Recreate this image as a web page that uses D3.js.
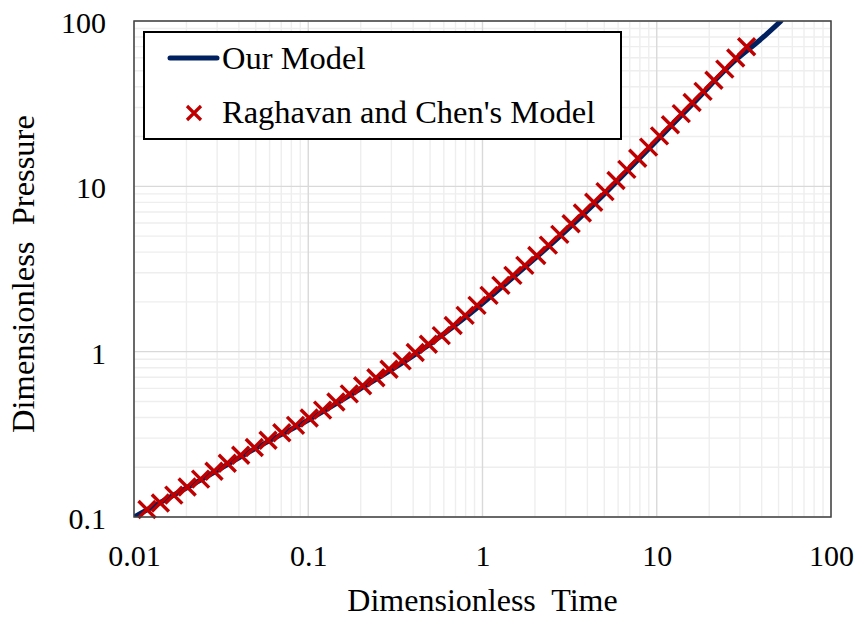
<!DOCTYPE html>
<html>
<head>
<meta charset="utf-8">
<script src="https://cdn.jsdelivr.net/npm/d3@7"></script>
<style>
  html, body { margin: 0; padding: 0; background: #ffffff; }
  svg { display: block; }
</style>
</head>
<body>
<svg id="chart" width="861" height="620"></svg>
<script>
// ---- Data ----
const modelTime = [0.01, 0.02411, 0.04903, 0.1013, 0.2051, 0.4110, 0.7945, 1.494, 2.777, 5.047, 8.979, 15.95, 28.39, 39.13, 51.6];
const modelPressure = [0.1, 0.1674, 0.2578, 0.3888, 0.6072, 0.9614, 1.609, 2.810, 4.972, 9.051, 16.82, 31.26, 58.10, 76.76, 100];

const rcTime = [0.01187, 0.01417, 0.01692, 0.02019, 0.02411, 0.02877, 0.03430, 0.04095, 0.04903, 0.05875,
  0.07050, 0.08450, 0.1013, 0.1209, 0.1441, 0.1720, 0.2051, 0.2445, 0.2907, 0.3456,
  0.4110, 0.4892, 0.5801, 0.6787, 0.7945, 0.9298, 1.090, 1.275, 1.494, 1.749,
  2.049, 2.388, 2.777, 3.225, 3.743, 4.347, 5.047, 5.836, 6.732, 7.775,
  8.979, 10.37, 11.98, 13.83, 15.95, 18.43, 21.28, 24.58, 28.39, 32.79];
const rcPressure = [0.1110, 0.1215, 0.1357, 0.1517, 0.1695, 0.1892, 0.2115, 0.2365, 0.2630, 0.2914,
  0.3230, 0.3581, 0.3971, 0.4432, 0.4961, 0.5554, 0.6218, 0.6961, 0.7823, 0.8796,
  0.9886, 1.110, 1.251, 1.440, 1.658, 1.905, 2.189, 2.517, 2.893, 3.325,
  3.816, 4.412, 5.120, 5.943, 6.898, 8.009, 9.295, 10.85, 12.66, 14.80,
  17.27, 20.19, 23.56, 27.51, 32.15, 37.52, 43.79, 51.18, 59.75, 69.82];

const xTicks = [0.01, 0.1, 1, 10, 100];
const xTickLabels = ["0.01", "0.1", "1", "10", "100"];
const yTicks = [0.1, 1, 10, 100];
const yTickLabels = ["0.1", "1", "10", "100"];

const seriesNames = ["Our Model", "Raghavan and Chen's Model"];
const xTitle = "Dimensionless  Time";
const yTitle = "Dimensionless  Pressure";

// ---- Layout ----
const plot = { left: 134, right: 831, top: 21, bottom: 517 };
const font = "'Liberation Serif', 'Times New Roman', serif";
const navy = "#002060";
const red = "#c00000";

const svg = d3.select("#chart");

const x = d3.scaleLog().domain([0.01, 100]).range([plot.left, plot.right]);
const y = d3.scaleLog().domain([0.1, 100]).range([plot.bottom, plot.top]);

// minor values
const minorX = [], minorY = [];
for (let e = -2; e < 2; e++) for (let m = 2; m <= 9; m++) minorX.push(m * Math.pow(10, e));
for (let e = -1; e < 2; e++) for (let m = 2; m <= 9; m++) minorY.push(m * Math.pow(10, e));

const grid = svg.append("g");
grid.selectAll(".mx").data(minorX).enter().append("line")
  .attr("x1", d => x(d)).attr("x2", d => x(d))
  .attr("y1", plot.top).attr("y2", plot.bottom)
  .attr("stroke", "#eeeeee").attr("stroke-width", 1.4);
grid.selectAll(".my").data(minorY).enter().append("line")
  .attr("y1", d => y(d)).attr("y2", d => y(d))
  .attr("x1", plot.left).attr("x2", plot.right)
  .attr("stroke", "#eeeeee").attr("stroke-width", 1.4);
grid.selectAll(".Mx").data(xTicks).enter().append("line")
  .attr("x1", d => x(d)).attr("x2", d => x(d))
  .attr("y1", plot.top).attr("y2", plot.bottom)
  .attr("stroke", "#d9d9d9").attr("stroke-width", 1.4);
grid.selectAll(".My").data(yTicks).enter().append("line")
  .attr("y1", d => y(d)).attr("y2", d => y(d))
  .attr("x1", plot.left).attr("x2", plot.right)
  .attr("stroke", "#d9d9d9").attr("stroke-width", 1.4);

// clip
svg.append("clipPath").attr("id", "clip").append("rect")
  .attr("x", plot.left).attr("y", plot.top)
  .attr("width", plot.right - plot.left).attr("height", plot.bottom - plot.top);

// model line
const modelData = modelTime.map((t, i) => [t, modelPressure[i]]);
const line = d3.line().x(d => x(d[0])).y(d => y(d[1])).curve(d3.curveMonotoneX);
svg.append("path").datum(modelData)
  .attr("clip-path", "url(#clip)")
  .attr("d", line)
  .attr("fill", "none").attr("stroke", navy).attr("stroke-width", 5)
  .attr("stroke-linejoin", "round").attr("stroke-linecap", "round");

// markers
const rcData = rcTime.map((t, i) => [t, rcPressure[i]]);
const s = 8.5;
const xPath = `M${-s},${-s}L${s},${s}M${-s},${s}L${s},${-s}`;
svg.append("g").selectAll("path").data(rcData).enter().append("path")
  .attr("transform", d => `translate(${x(d[0])},${y(d[1])})`)
  .attr("d", xPath)
  .attr("fill", "none").attr("stroke", red).attr("stroke-width", 3.4);

// frame
svg.append("rect")
  .attr("x", plot.left).attr("y", plot.top)
  .attr("width", plot.right - plot.left).attr("height", plot.bottom - plot.top)
  .attr("fill", "none").attr("stroke", "#404040").attr("stroke-width", 1.5);

// axes labels (d3 axes, lines hidden)
const xAxis = d3.axisBottom(x).tickValues(xTicks).tickFormat((d, i) => xTickLabels[i]).tickSize(0).tickPadding(0);
const gx = svg.append("g").attr("transform", `translate(0,${plot.bottom})`).call(xAxis);
gx.select(".domain").remove();
gx.selectAll("text").attr("font-family", font).attr("font-size", 30).attr("fill", "#000")
  .attr("dy", null).attr("y", 49);

const yAxis = d3.axisLeft(y).tickValues(yTicks).tickFormat((d, i) => yTickLabels[i]).tickSize(0).tickPadding(0);
const gy = svg.append("g").attr("transform", `translate(${plot.left},0)`).call(yAxis);
gy.select(".domain").remove();
gy.selectAll("text").attr("font-family", font).attr("font-size", 30).attr("fill", "#000")
  .attr("x", -28).attr("dy", "0.38em");

// titles
svg.append("text").attr("x", (plot.left + plot.right) / 2).attr("y", 611)
  .attr("text-anchor", "middle").attr("font-family", font).attr("font-size", 32)
  .style("white-space", "pre")
  .text(xTitle);
svg.append("text").attr("transform", `translate(34,${(plot.top + plot.bottom) / 2 + 5}) rotate(-90)`)
  .attr("text-anchor", "middle").attr("font-family", font).attr("font-size", 32.5)
  .style("white-space", "pre")
  .text(yTitle);

// legend
const lg = svg.append("g");
lg.append("rect").attr("x", 144).attr("y", 32).attr("width", 477).attr("height", 107)
  .attr("fill", "#fff").attr("stroke", "#000").attr("stroke-width", 2);
lg.append("line").attr("x1", 170).attr("x2", 217).attr("y1", 58).attr("y2", 58)
  .attr("stroke", navy).attr("stroke-width", 5).attr("stroke-linecap", "round");
lg.append("path").attr("transform", "translate(194,113)").attr("d", `M-7,-7L7,7M-7,7L7,-7`)
  .attr("fill", "none").attr("stroke", red).attr("stroke-width", 3.2);
lg.selectAll("text").data(seriesNames).enter().append("text")
  .attr("x", 222).attr("y", (d, i) => i === 0 ? 69 : 123)
  .attr("font-family", font).attr("font-size", 32.5).attr("fill", "#000")
  .text(d => d);
</script>
</body>
</html>
